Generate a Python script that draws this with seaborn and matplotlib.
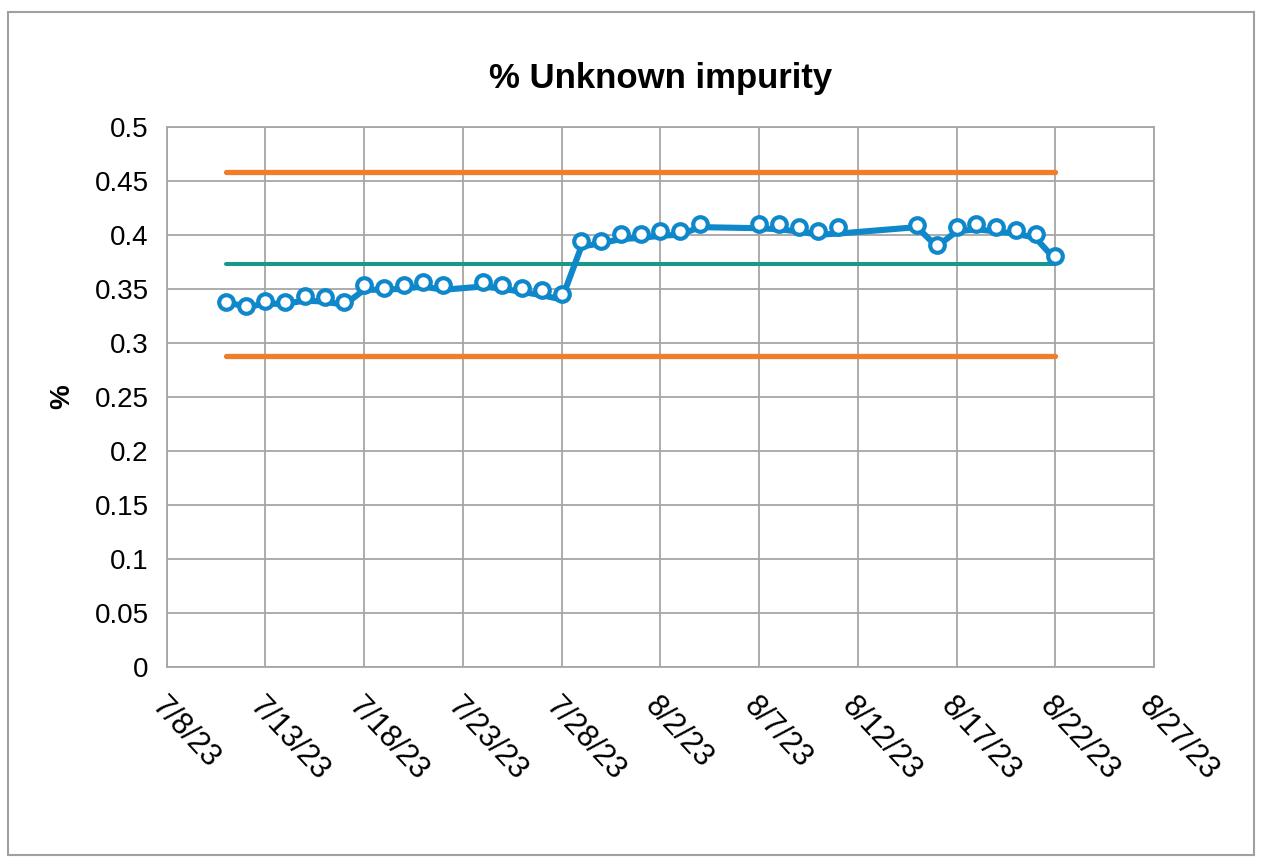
import datetime as dt
import numpy as np
import pandas as pd
import seaborn as sns
import matplotlib
matplotlib.use("Agg")
from matplotlib import pyplot as plt
import matplotlib.dates as mdates
from matplotlib.patches import Rectangle
from matplotlib.ticker import FuncFormatter, MultipleLocator

# sample dates (days after 7/8/23)
day_offsets = [3, 4, 5, 6, 7, 8, 9, 10, 11, 12, 13, 14,
               16, 17, 18, 19, 20,
               21, 22, 23, 24, 25, 26, 27,
               30, 31, 32, 33, 34,
               38, 39, 40, 41, 42, 43, 44, 45]
# measured points (hollow markers)
marker_values = [0.338, 0.334, 0.339, 0.338, 0.343, 0.342, 0.338, 0.353, 0.351, 0.353, 0.356, 0.353,
                 0.356, 0.353, 0.351, 0.349, 0.345,
                 0.394, 0.394, 0.401, 0.401, 0.403, 0.403, 0.410,
                 0.410, 0.410, 0.407, 0.403, 0.407,
                 0.409, 0.390, 0.407, 0.410, 0.407, 0.404, 0.401, 0.380]
# trend line
line_values = [0.338, 0.333, 0.336, 0.336, 0.339, 0.338, 0.335, 0.349, 0.349, 0.350, 0.352, 0.349,
               0.352, 0.350, 0.347, 0.344, 0.340,
               0.389, 0.392, 0.396, 0.397, 0.399, 0.400, 0.407,
               0.406, 0.405, 0.403, 0.400, 0.401,
               0.407, 0.389, 0.403, 0.405, 0.403, 0.401, 0.397, 0.377]
ucl = 0.458
center = 0.373
lcl = 0.288

start = dt.datetime(2023, 7, 8)
dates = [start + dt.timedelta(days=d) for d in day_offsets]
df = pd.DataFrame({"date": dates, "line": line_values, "marker": marker_values})
limits = pd.DataFrame({"date": [dates[0], dates[-1]] * 3,
                       "value": [ucl, ucl, center, center, lcl, lcl],
                       "kind": ["ucl", "ucl", "center", "center", "lcl", "lcl"]})

sns.set_style("white")
plt.rcParams["font.family"] = ["Liberation Sans", "DejaVu Sans"]

fig = plt.figure(figsize=(12.62, 8.63), dpi=100)
ax = fig.add_axes([0.1321, 0.2275, 0.7823, 0.6257])

blue = "#0F87CB"
orange = "#EF7D2A"
teal = "#17998A"

sns.lineplot(data=limits, x="date", y="value", hue="kind",
             palette={"ucl": orange, "center": teal, "lcl": orange},
             legend=False, ax=ax, zorder=2)
for ln, w in zip(ax.lines, [3.8, 2.9, 3.8]):
    ln.set_linewidth(w)
    ln.set_solid_capstyle("round")
sns.lineplot(data=df, x="date", y="line", color=blue, linewidth=4.4, ax=ax, zorder=3)
ax.lines[-1].set_solid_joinstyle("round")
ax.lines[-1].set_solid_capstyle("round")
ax.plot(df["date"], df["marker"], linestyle="none", marker="o", markersize=10.5,
        markerfacecolor="white", markeredgecolor=blue, markeredgewidth=3.0, zorder=4)

ax.set_xlim(start, start + dt.timedelta(days=50))
ax.set_ylim(0, 0.5)
ticks = [mdates.date2num(start + dt.timedelta(days=5 * i)) for i in range(11)]
ax.set_xticks(ticks)
ax.xaxis.set_major_formatter(FuncFormatter(
    lambda v, p: "{d.month}/{d.day}/{y}".format(d=mdates.num2date(v), y=mdates.num2date(v).strftime("%y"))))
ax.yaxis.set_major_locator(MultipleLocator(0.05))
ax.yaxis.set_major_formatter(FuncFormatter(lambda v, p: f"{round(v, 2):g}"))

ax.grid(True, color="#A6A6A6", linewidth=1.3)
ax.set_axisbelow(True)
for s in ax.spines.values():
    s.set_color("#A6A6A6")
    s.set_linewidth(1.3)
ax.tick_params(axis="both", length=0, labelsize=20, colors="#000000")
ax.tick_params(axis="y", pad=13)
ax.tick_params(axis="x", pad=18, labelsize=22)
for lab in ax.get_xticklabels():
    lab.set_rotation(-47)
    lab.set_ha("left")
    lab.set_va("top")
    lab.set_rotation_mode("anchor")

ax.set_xlabel("")
ax.set_ylabel("%", fontsize=20, fontweight="bold", labelpad=14, color="black")
ax.set_title("% Unknown impurity", fontsize=25, fontweight="bold", pad=28, color="black")

fig.patches.append(Rectangle((8 / 1262, 8 / 863), 1246 / 1262, 843 / 863,
                             transform=fig.transFigure, fill=False,
                             edgecolor="#A0A0A0", linewidth=1.5))

fig.savefig("out.png", dpi=100)
